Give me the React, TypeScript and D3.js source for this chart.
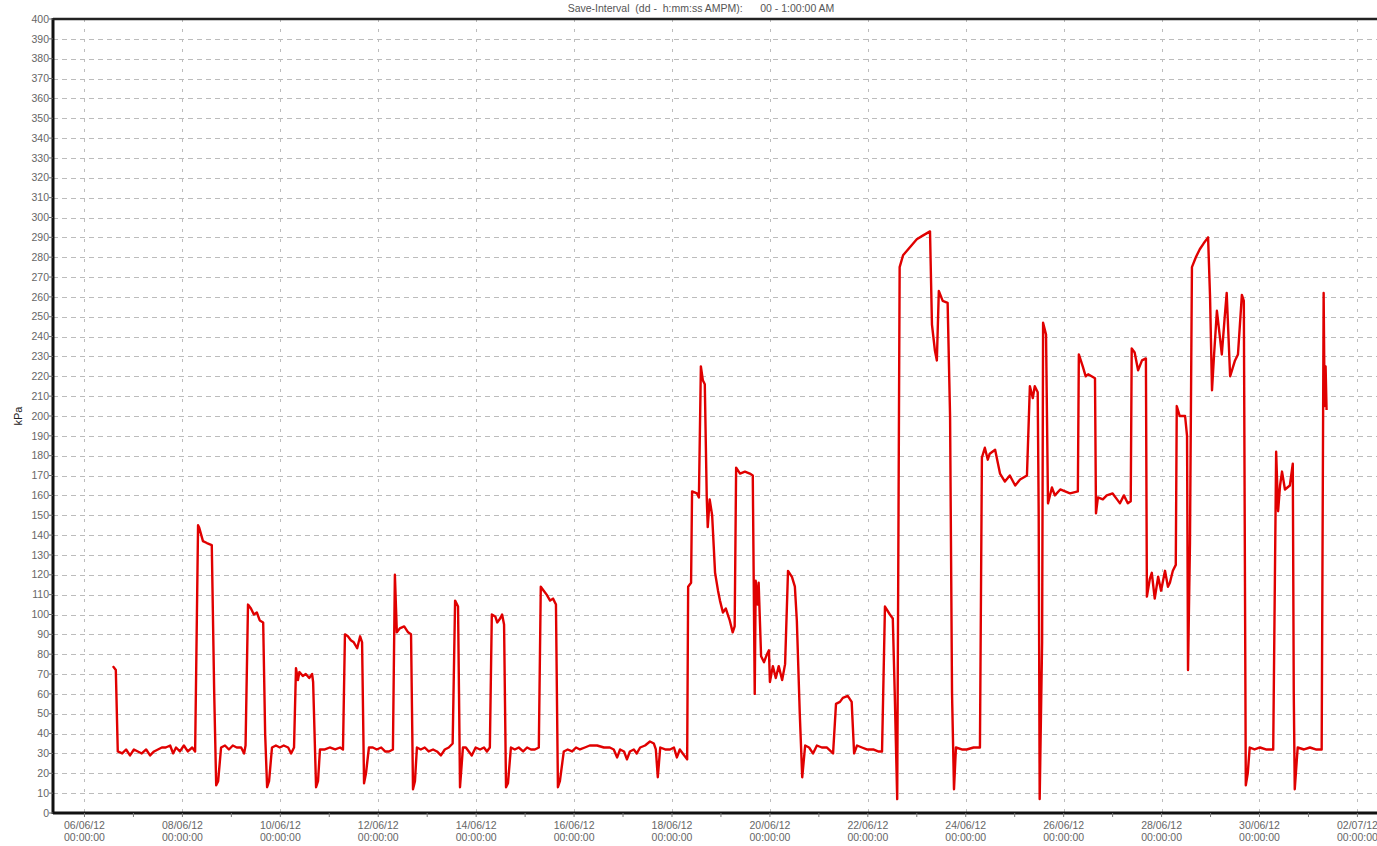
import React, { useEffect, useRef } from "react";
import * as d3 from "d3";

// Day offsets from 06/06/12 00:00:00 and pressure readings (kPa)
const dayOffsets: number[] = [
  0.58, 0.64, 0.68, 0.77, 0.85, 0.93, 1.01, 1.09, 1.17, 1.26, 1.34, 1.42, 1.5, 1.58, 1.66, 1.75, 1.81, 1.87, 1.95, 2.03, 2.11, 2.2, 2.26,
  2.32, 2.34, 2.42, 2.5, 2.6, 2.65, 2.69, 2.73, 2.79, 2.87, 2.95, 3.03, 3.11, 3.2, 3.26, 3.29,
  3.34, 3.4, 3.46, 3.52, 3.58, 3.65, 3.69, 3.73, 3.77, 3.83, 3.91, 3.99, 4.07, 4.16, 4.22, 4.28,
  4.32, 4.36, 4.39, 4.46, 4.52, 4.59, 4.65, 4.67, 4.73, 4.77, 4.81, 4.91, 5.01, 5.12, 5.22, 5.28,
  5.32, 5.38, 5.44, 5.5, 5.57, 5.63, 5.67, 5.71, 5.75, 5.81, 5.89, 5.97, 6.06, 6.14, 6.22, 6.3,
  6.34, 6.38, 6.44, 6.53, 6.61, 6.67, 6.71, 6.75, 6.79, 6.87, 6.95, 7.03, 7.12, 7.2, 7.28, 7.36, 7.44, 7.52,
  7.57, 7.63, 7.65, 7.67, 7.73, 7.79, 7.85, 7.91, 7.99, 8.08, 8.16, 8.22, 8.28,
  8.32, 8.39, 8.43, 8.49, 8.53, 8.57, 8.61, 8.65, 8.71, 8.79, 8.87, 8.96, 9.04, 9.12, 9.2, 9.28,
  9.32, 9.38, 9.44, 9.51, 9.57, 9.63, 9.67, 9.71, 9.79, 9.87, 9.96, 10.04, 10.12, 10.22, 10.32, 10.47,
  10.61, 10.73, 10.81, 10.88, 10.94, 11.02, 11.08, 11.14, 11.22, 11.28, 11.35, 11.45, 11.55, 11.63, 11.67,
  11.71, 11.76, 11.86, 11.96, 12.04, 12.1, 12.16, 12.22, 12.31,
  12.33, 12.39, 12.41, 12.51, 12.55, 12.59, 12.63, 12.67, 12.71, 12.73, 12.77, 12.82, 12.88, 12.94, 12.98,
  13.04, 13.1, 13.14, 13.18, 13.24, 13.28, 13.31, 13.39, 13.49, 13.59, 13.65, 13.69, 13.71, 13.75, 13.77,
  13.82, 13.88, 13.94, 13.98, 14.0, 14.06, 14.12, 14.18, 14.25, 14.31, 14.37, 14.45, 14.51, 14.55, 14.61,
  14.66, 14.72, 14.8, 14.88, 14.96, 15.06, 15.16, 15.29, 15.35, 15.43, 15.49, 15.59, 15.67, 15.72, 15.78,
  15.88, 15.98, 16.11, 16.21, 16.29, 16.35, 16.45, 16.51, 16.55, 16.6, 16.65, 16.72, 16.86, 17.0, 17.13,
  17.27, 17.31, 17.37, 17.41, 17.45, 17.53, 17.63, 17.68, 17.72, 17.76, 17.8, 17.92, 18.02, 18.16, 18.29,
  18.33, 18.39, 18.45, 18.49, 18.6, 18.7, 18.8, 18.9, 19.01, 19.11, 19.25, 19.31, 19.37, 19.41, 19.47,
  19.49, 19.51, 19.56, 19.58, 19.64, 19.68, 19.76, 19.82, 19.93, 20.03, 20.13, 20.29, 20.31, 20.39, 20.45,
  20.5, 20.64, 20.66, 20.7, 20.8, 20.88, 21.0, 21.09, 21.15, 21.23, 21.31, 21.37, 21.39, 21.45, 21.52,
  21.6, 21.68, 21.7, 21.76, 21.8, 21.86, 21.93, 21.99, 22.07, 22.13, 22.17, 22.23, 22.29, 22.31, 22.37,
  22.48, 22.52, 22.54, 22.58, 22.62, 22.7, 22.78, 22.86, 22.95, 22.99, 23.03, 23.07, 23.13, 23.19, 23.23,
  23.29, 23.33, 23.4, 23.5, 23.56, 23.64, 23.68, 23.72, 23.76, 23.8, 23.9, 24.01, 24.13, 24.28, 24.34,
  24.38, 24.42, 24.46, 24.52, 24.62, 24.68, 24.7, 24.72, 24.78, 24.91, 25.03, 25.15, 25.27, 25.31, 25.33,
  25.35, 25.37,
];

const kPaValues: number[] = [
  74, 72, 31, 30, 32, 29, 32, 31, 30, 32, 29, 31, 32, 33, 33, 34, 30, 33, 31, 34, 31, 33, 31,
  145, 144, 137, 136, 135, 60, 14, 16, 33, 34, 32, 34, 33, 33, 30, 34,
  105, 103, 100, 101, 97, 96, 40, 13, 16, 33, 34, 33, 34, 33, 30, 33,
  73, 67, 71, 69, 70, 68, 70, 66, 13, 16, 32, 32, 33, 32, 33, 32,
  90, 89, 87, 86, 83, 89, 86, 15, 20, 33, 33, 32, 33, 31, 31, 32,
  120, 91, 93, 94, 91, 90, 12, 16, 33, 32, 33, 31, 32, 31, 29, 32, 33, 35,
  107, 104, 60, 13, 33, 33, 31, 29, 33, 32, 33, 31, 33,
  100, 99, 96, 98, 100, 95, 13, 15, 33, 32, 33, 31, 33, 32, 32, 33,
  114, 112, 110, 107, 108, 105, 13, 16, 31, 32, 31, 33, 32, 33, 34, 34,
  33, 33, 32, 28, 32, 31, 27, 31, 32, 30, 33, 34, 36, 35, 32,
  18, 33, 32, 32, 33, 28, 32, 30, 27,
  114, 116, 162, 161, 159, 225, 218, 216, 159, 144, 158, 150, 121, 112, 107,
  101, 103, 100, 97, 91, 94, 174, 171, 172, 171, 170, 60, 117, 105, 116,
  79, 76, 80, 82, 66, 74, 68, 74, 67, 75, 122, 119, 114, 97, 50,
  18, 34, 33, 30, 34, 33, 33, 30, 55, 56, 58, 59, 56, 30, 34,
  33, 32, 32, 31, 31, 104, 100, 98, 60, 7, 275, 281, 285, 289, 291,
  293, 246, 233, 228, 263, 258, 257, 200, 60, 12, 33, 32, 32, 33, 33,
  179, 184, 178, 181, 183, 171, 167, 170, 165, 168, 170, 215, 209, 215, 212,
  150, 7, 86, 247, 241, 156, 164, 160, 163, 162, 161, 162, 231, 225, 220,
  221, 219, 151, 159, 158, 160, 161, 158, 156, 160, 156, 157, 234, 232, 223,
  228, 229, 109, 118, 121, 108, 119, 112, 122, 114, 116, 122, 125, 205, 200,
  200, 190, 72, 136, 275, 280, 284, 287, 290, 260, 213, 230, 253, 240, 231,
  250, 262, 220, 228, 231, 261, 258, 14, 20, 33, 32, 33, 32, 32, 182,
  152, 165, 172, 163, 165, 176, 60, 12, 33, 32, 33, 32, 32, 262, 205,
  225, 203,
];

const yTicks: number[] = d3.range(0, 401, 10);
const xTickDates: string[] = [
  "2012-06-06", "2012-06-08", "2012-06-10", "2012-06-12", "2012-06-14", "2012-06-16", "2012-06-18",
  "2012-06-20", "2012-06-22", "2012-06-24", "2012-06-26", "2012-06-28", "2012-06-30", "2012-07-02",
];
const titleText = "Save-Interval  (dd -  h:mm:ss AMPM):      00 - 1:00:00 AM";
const yLabel = "kPa";

const W = 1377;
const H = 846;
const M = { left: 53, right: 0, top: 19, bottom: 33 };
const DAY = 86400000;

function parseDay(s: string): Date {
  const [y, m, d] = s.split("-").map(Number);
  return new Date(y, m - 1, d);
}

export default function App() {
  const ref = useRef<SVGSVGElement | null>(null);

  useEffect(() => {
    const svg = d3.select(ref.current);
    svg.selectAll("*").remove();
    const start = parseDay("2012-06-06");
    const x = d3
      .scaleTime()
      .domain([new Date(start.getTime() - 0.643 * DAY), new Date(start.getTime() + 26.4 * DAY)])
      .range([M.left, W - M.right]);
    const y = d3.scaleLinear().domain([0, 400]).range([H - M.bottom, M.top]);

    const font = "'Liberation Sans', Arial, sans-serif";
    const g = svg.append("g");

    // horizontal grid
    g.append("g")
      .selectAll("line")
      .data(yTicks.filter((t) => t > 0 && t < 400))
      .join("line")
      .attr("x1", M.left)
      .attr("x2", W)
      .attr("y1", (d) => Math.round(y(d)) + 0.5)
      .attr("y2", (d) => Math.round(y(d)) + 0.5)
      .attr("stroke", "#bcbcbc")
      .attr("stroke-width", 1)
      .attr("stroke-dasharray", "5,4");

    const majors = xTickDates.map(parseDay);
    // vertical grid
    g.append("g")
      .selectAll("line")
      .data(majors)
      .join("line")
      .attr("x1", (d) => Math.round(x(d)) + 0.5)
      .attr("x2", (d) => Math.round(x(d)) + 0.5)
      .attr("y1", M.top)
      .attr("y2", H - M.bottom)
      .attr("stroke", "#bcbcbc")
      .attr("stroke-width", 1)
      .attr("stroke-dasharray", "3,7");

    // line
    const pts = dayOffsets.map((d, i) => ({ t: new Date(start.getTime() + d * DAY), v: kPaValues[i] }));
    const line = d3
      .line<{ t: Date; v: number }>()
      .x((d) => x(d.t))
      .y((d) => y(d.v));
    g.append("path")
      .datum(pts)
      .attr("d", line)
      .attr("fill", "none")
      .attr("stroke", "#e00000")
      .attr("stroke-width", 2.4)
      .attr("stroke-linejoin", "round");

    // frame
    g.append("line")
      .attr("x1", M.left).attr("x2", M.left)
      .attr("y1", M.top - 1).attr("y2", H - M.bottom + 1)
      .attr("stroke", "#111").attr("stroke-width", 3);
    g.append("line")
      .attr("x1", M.left).attr("x2", W)
      .attr("y1", H - M.bottom).attr("y2", H - M.bottom)
      .attr("stroke", "#111").attr("stroke-width", 3);
    g.append("line")
      .attr("x1", M.left).attr("x2", W)
      .attr("y1", M.top).attr("y2", M.top)
      .attr("stroke", "#222").attr("stroke-width", 2.5);

    // y axis ticks + labels
    const ya = g.append("g");
    ya.selectAll("line")
      .data(yTicks)
      .join("line")
      .attr("x1", M.left - 4)
      .attr("x2", M.left)
      .attr("y1", (d) => y(d))
      .attr("y2", (d) => y(d))
      .attr("stroke", "#666");
    ya.selectAll("text")
      .data(yTicks)
      .join("text")
      .attr("x", M.left - 4)
      .attr("y", (d) => y(d))
      .attr("dy", "0.35em")
      .attr("text-anchor", "end")
      .attr("font-family", font)
      .attr("font-size", 10.5)
      .attr("fill", "#666")
      .text((d) => String(d));

    // x axis minor ticks (daily)
    const minors = d3.timeDay.range(new Date(start.getTime() - DAY), new Date(start.getTime() + 27 * DAY));
    g.append("g")
      .selectAll("line")
      .data(minors.filter((d) => x(d) > M.left && x(d) < W))
      .join("line")
      .attr("x1", (d) => x(d))
      .attr("x2", (d) => x(d))
      .attr("y1", H - M.bottom)
      .attr("y2", H - M.bottom + 4)
      .attr("stroke", "#777");

    const fmtDate = d3.timeFormat("%d/%m/%y");
    const fmtTime = d3.timeFormat("%H:%M:%S");
    const xl = g.append("g")
      .selectAll("text")
      .data(majors)
      .join("text")
      .attr("font-family", font)
      .attr("font-size", 10.5)
      .attr("fill", "#666")
      .attr("text-anchor", "middle");
    xl.append("tspan")
      .attr("x", (d) => x(d))
      .attr("y", H - M.bottom + 16)
      .text((d) => fmtDate(d));
    xl.append("tspan")
      .attr("x", (d) => x(d))
      .attr("y", H - M.bottom + 28)
      .text((d) => fmtTime(d));

    // title
    svg.append("text")
      .attr("x", 701)
      .attr("y", 12)
      .attr("text-anchor", "middle")
      .attr("font-family", font)
      .attr("font-size", 10.5)
      .attr("fill", "#555")
      .style("white-space", "pre")
      .text(titleText);

    // y label
    svg.append("text")
      .attr("transform", `translate(22,${(M.top + H - M.bottom) / 2}) rotate(-90)`)
      .attr("text-anchor", "middle")
      .attr("font-family", font)
      .attr("font-size", 11)
      .attr("fill", "#222")
      .text(yLabel);
  }, []);

  return (
    <svg
      ref={ref}
      width={W}
      height={H}
      style={{ position: "absolute", left: 0, top: 0, background: "#fff" }}
    />
  );
}
